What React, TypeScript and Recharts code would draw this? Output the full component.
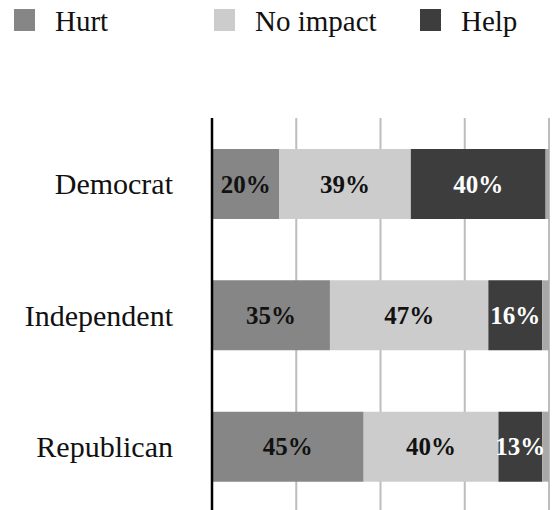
import React from 'react';
import { BarChart, Bar, XAxis, YAxis, CartesianGrid, LabelList, Legend } from 'recharts';

const categories = ["Democrat", "Independent", "Republican"];
const hurt = [20, 35, 45];
const noImpact = [39, 47, 40];
const help = [40, 16, 13];
const other = [1, 2, 2]; // small unlabeled remainder at the end of each bar

const SERIES = [
  { key: "hurt", name: "Hurt", color: "#858685", label: "#111" },
  { key: "noImpact", name: "No impact", color: "#cbcccb", label: "#111" },
  { key: "help", name: "Help", color: "#3c3d3c", label: "#fff" },
];
const OTHER_COLOR = "#a8a8a8";
const FONT = "'Liberation Serif', 'Times New Roman', serif";

const data = categories.map((c, i) => ({
  party: c,
  hurt: hurt[i],
  noImpact: noImpact[i],
  help: help[i],
  other: other[i],
}));

const LEGEND_LEFT = [14, 214, 420];

function renderLegend() {
  return (
    <div style={{ position: "relative", width: 559, height: 40, fontFamily: FONT }}>
      {SERIES.map((s, i) => (
        <div key={s.key} style={{ position: "absolute", left: LEGEND_LEFT[i], top: 9, display: "flex", alignItems: "flex-start" }}>
          <span style={{ width: 21, height: 22, background: s.color, display: "inline-block" }} />
          <span style={{ marginLeft: 20, fontSize: 29, lineHeight: "22px", marginTop: 1, color: "#111" }}>{s.name}</span>
        </div>
      ))}
    </div>
  );
}

const makeLabel = (color: string) => (props: any) => {
  const { x, y, width, height, value } = props;
  return (
    <text
      x={Number(x) + Number(width) / 2}
      y={Number(y) + Number(height) / 2}
      textAnchor="middle"
      dominantBaseline="central"
      fill={color}
      fontSize={25}
      fontWeight="bold"
      fontFamily={FONT}
    >
      {`${value}%`}
    </text>
  );
};

export default function App() {
  return (
    <div style={{ position: "absolute", left: 0, top: 0, width: 559, height: 512 }}>
      <BarChart
        width={559}
        height={512}
        data={data}
        layout="vertical"
        margin={{ top: 78, right: 10, bottom: 0, left: 0 }}
        barSize={70}
      >
        <Legend verticalAlign="top" align="left" content={renderLegend} wrapperStyle={{ top: 0, left: 0 }} />
        <CartesianGrid horizontal={false} stroke="#bdbdbd" strokeWidth={2} />
        <XAxis type="number" domain={[0, 100]} ticks={[0, 25, 50, 75, 100]} hide />
        <YAxis
          type="category"
          dataKey="party"
          width={212}
          tickLine={false}
          tickSize={0}
          tickMargin={39}
          axisLine={{ stroke: "#000", strokeWidth: 2.5 }}
          tick={{ fill: "#111", fontSize: 30, fontFamily: FONT }}
        />
        {SERIES.map((s) => (
          <Bar key={s.key} dataKey={s.key} name={s.name} stackId="a" fill={s.color} isAnimationActive={false}>
            <LabelList dataKey={s.key} content={makeLabel(s.label)} />
          </Bar>
        ))}
        <Bar dataKey="other" stackId="a" fill={OTHER_COLOR} legendType="none" isAnimationActive={false} />
      </BarChart>
    </div>
  );
}
